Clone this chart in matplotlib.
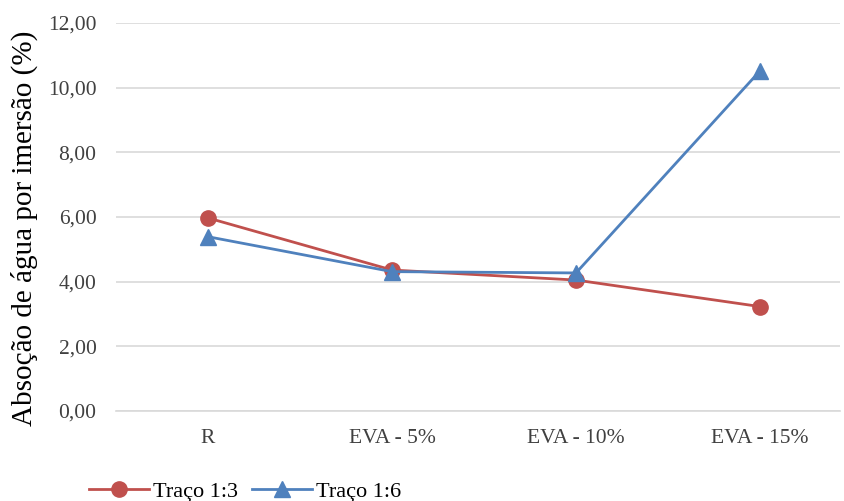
import matplotlib.pyplot as plt
from matplotlib.ticker import FuncFormatter

categorias = ['R', 'EVA - 5%', 'EVA - 10%', 'EVA - 15%']
traco_13 = [5.97, 4.36, 4.05, 3.23]
traco_16 = [5.39, 4.31, 4.27, 10.52]
y_ticks = [0, 2, 4, 6, 8, 10, 12]

plt.rcParams['font.family'] = ['Liberation Serif', 'DejaVu Serif']

fig = plt.figure(figsize=(8.44, 5.01), dpi=100)
ax = fig.add_axes([116 / 844, 90 / 501, 724 / 844, 388 / 501])

x = list(range(len(categorias)))
ax.plot(x, traco_13, color='#C0504D', linewidth=2, marker='o', markersize=11,
        label='Traço 1:3')
ax.plot(x, traco_16, color='#4F81BD', linewidth=2, marker='^', markersize=11,
        label='Traço 1:6')

ax.set_xlim(-0.5, 3.5 - 12 / 184)
ax.set_ylim(0, 12)
ax.set_yticks(y_ticks)
ax.yaxis.set_major_formatter(FuncFormatter(lambda v, p: f'{v:.2f}'.replace('.', ',')))
ax.set_xticks(x)
ax.set_xticklabels(categorias)
ax.grid(axis='y', color='#D9D9D9', linewidth=1.2)
ax.set_axisbelow(True)
for s in ['top', 'right', 'left']:
    ax.spines[s].set_visible(False)
ax.spines['bottom'].set_color('#D9D9D9')
ax.spines['bottom'].set_linewidth(1.2)
ax.tick_params(axis='both', length=0, labelsize=15.5, colors='#404040')
ax.tick_params(axis='x', pad=13)
ax.tick_params(axis='y', pad=14)

ax.set_ylabel('Absoção de água por imersão (%)', fontsize=21)
ax.yaxis.set_label_coords(-0.108, 0.47)

fig.legend(loc='lower left', bbox_to_anchor=(80 / 844, -10 / 501), ncol=2,
           frameon=False, fontsize=16, handlelength=2.7, columnspacing=0.6,
           handletextpad=0.2, borderaxespad=0)

fig.savefig('out.png', dpi=100)
